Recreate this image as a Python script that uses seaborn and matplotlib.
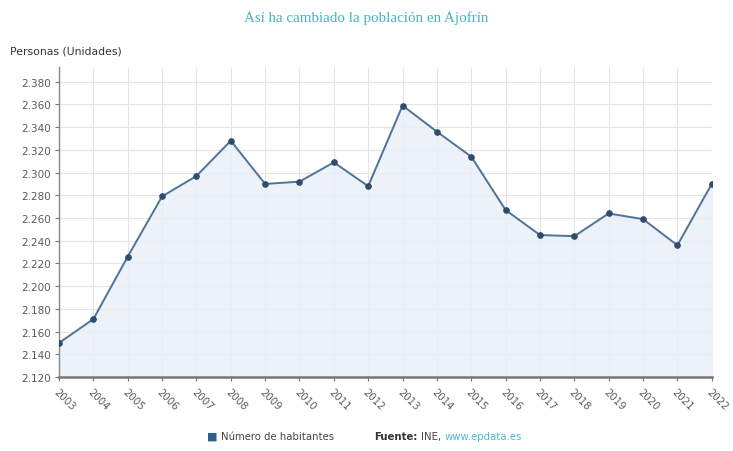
import numpy as np
import pandas as pd
import matplotlib
matplotlib.use('Agg')
import matplotlib.pyplot as plt
import seaborn as sns
from matplotlib.ticker import FuncFormatter

# datos: población de Ajofrín (INE)
years = [2003, 2004, 2005, 2006, 2007, 2008, 2009, 2010, 2011, 2012,
         2013, 2014, 2015, 2016, 2017, 2018, 2019, 2020, 2021, 2022]
habitantes = [2150, 2171, 2226, 2279, 2297, 2328, 2290, 2292, 2309, 2288,
              2359, 2336, 2314, 2267, 2245, 2244, 2264, 2259, 2236, 2290]
y_ticks = list(range(2120, 2381, 20))

df = pd.DataFrame({'Year': years, 'Habitantes': habitantes})

sns.set_theme(style="white")
plt.rcParams['font.family'] = ['DejaVu Sans']

fig = plt.figure(figsize=(7.33, 4.52), dpi=100)
ax = fig.add_axes([0.0805, 0.1637, 0.8905, 0.686])

line_col = '#4f7399'
ax.fill_between(df['Year'], df['Habitantes'], 2120, color='#e9f0f7', alpha=0.85, zorder=1)
sns.lineplot(data=df, x='Year', y='Habitantes', ax=ax, color=line_col, linewidth=1.4,
             marker='o', markersize=4, markerfacecolor='#2f4c6e', markeredgecolor='#2f4c6e',
             zorder=3)

ax.set_xlim(years[0], years[-1])
ax.set_ylim(2120, 2393)
ax.set_yticks(y_ticks)
ax.set_xticks(years)
ax.yaxis.set_major_formatter(FuncFormatter(lambda v, p: f"{int(v):,}".replace(',', '.')))
ax.set_xticklabels([str(y) for y in years], rotation=-45, ha='left', va='top',
                   rotation_mode='anchor', fontsize=7.3, color='#5a5a5a')
ax.tick_params(axis='y', labelsize=7.5, labelcolor='#5a5a5a', length=3, color='#777777',
               left=True, width=0.8, pad=3)
ax.tick_params(axis='x', length=3, color='#777777', bottom=True, width=0.8, pad=4)
ax.grid(True, color='#e4e4e4', linewidth=0.8, zorder=0)
ax.set_axisbelow(True)
ax.set_xlabel('')
ax.set_ylabel('')

for s in ['top', 'right']:
    ax.spines[s].set_visible(False)
ax.spines['left'].set_color('#888888')
ax.spines['left'].set_linewidth(1.0)
ax.spines['bottom'].set_color('#777777')
ax.spines['bottom'].set_linewidth(1.8)

fig.text(0.5, 0.96, 'Así ha cambiado la población en Ajofrín', ha='center', va='center',
         fontsize=10.8, color='#45b3c8', family=['Liberation Serif', 'DejaVu Serif'])
fig.text(0.0136, 0.885, 'Personas (Unidades)', ha='left', va='center',
         fontsize=7.8, color='#333333')

# leyenda inferior (textos encadenados para que no se solapen)
ly = 0.034
t0 = fig.text(0.283, ly, '■', ha='left', va='center', fontsize=8, color='#2f5f8a')
t1 = ax.annotate('Número de habitantes', xy=(1, 0.5), xycoords=t0, xytext=(2, 0),
                 textcoords='offset points', ha='left', va='center',
                 fontsize=7.3, color='#444444', annotation_clip=False)
t2 = ax.annotate('Fuente:', xy=(1, 0.5), xycoords=t1, xytext=(29, 0),
                 textcoords='offset points', ha='left', va='center',
                 fontsize=7.3, color='#333333', fontweight='bold', annotation_clip=False)
t3 = ax.annotate('INE,', xy=(1, 0.5), xycoords=t2, xytext=(2.5, 0),
                 textcoords='offset points', ha='left', va='center',
                 fontsize=7.3, color='#444444', annotation_clip=False)
t4 = ax.annotate('www.epdata.es', xy=(1, 0.5), xycoords=t3, xytext=(2.5, 0),
                 textcoords='offset points', ha='left', va='center',
                 fontsize=7.3, color='#4fb8d6', annotation_clip=False)

fig.savefig('out.png', dpi=100)
